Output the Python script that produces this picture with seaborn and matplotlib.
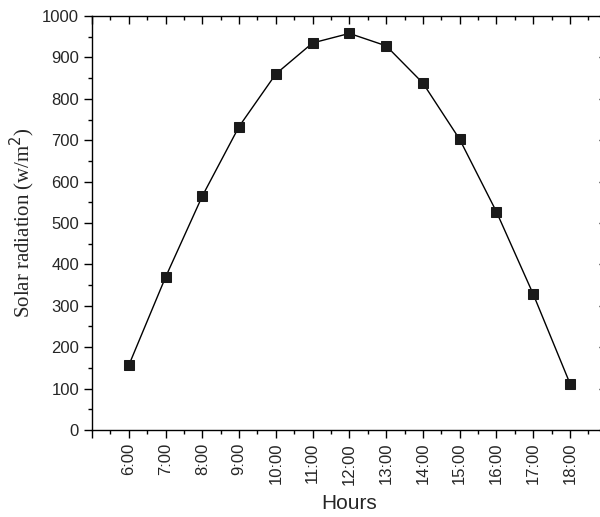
import matplotlib
matplotlib.use("Agg")
import pandas as pd
import seaborn as sns
import matplotlib.pyplot as plt
from matplotlib.ticker import MultipleLocator

# data
hours = [6, 7, 8, 9, 10, 11, 12, 13, 14, 15, 16, 17, 18]
hour_labels = ["6:00", "7:00", "8:00", "9:00", "10:00", "11:00", "12:00",
               "13:00", "14:00", "15:00", "16:00", "17:00", "18:00"]
radiation = [156, 369, 565, 733, 860, 935, 958, 928, 838, 702, 527, 328, 112]

df = pd.DataFrame({"hour": hours, "radiation": radiation})

sns.set_style("ticks")
plt.rcParams['font.family'] = ['Liberation Sans', 'DejaVu Sans']

fig = plt.figure(figsize=(6, 5.17), dpi=100)
ax = fig.add_axes([0.1533, 0.1683, 0.858, 0.8007])

sns.lineplot(data=df, x="hour", y="radiation", ax=ax, color="black",
             linewidth=1.0, marker="s", markersize=6.5,
             markerfacecolor="#1a1a1a", markeredgecolor="#1a1a1a")

ax.set_xlim(5, 19)
ax.set_ylim(0, 1000)
# a major tick at each axis end too, left unlabelled
ax.set_xticks([hours[0] - 1] + hours + [hours[-1] + 1])
ax.set_xticklabels([""] + hour_labels + [""], rotation=90, fontsize=12)
ax.xaxis.set_minor_locator(MultipleLocator(0.5))
ax.yaxis.set_major_locator(MultipleLocator(100))
ax.yaxis.set_minor_locator(MultipleLocator(50))
ax.tick_params(axis="y", labelsize=12)

ax.tick_params(which="major", length=5.8, width=1, color="black")
ax.tick_params(which="minor", length=3, width=1, color="black")
ax.tick_params(axis="x", which="both", top=True, direction="out")
ax.tick_params(axis="y", which="major", right=True, direction="out")
ax.tick_params(axis="y", which="minor", right=False)
# mirrored ticks point inward
for t in ax.xaxis.get_major_ticks() + ax.xaxis.get_minor_ticks():
    t.tick2line.set_marker(3)
for t in ax.yaxis.get_major_ticks():
    t.tick2line.set_marker(0)

for s in ax.spines.values():
    s.set_linewidth(1.0)
    s.set_color("black")

ax.set_xlabel("Hours", fontsize=15, labelpad=7)
ax.set_ylabel("Solar radiation (w/m$^2$)", fontsize=15, family="Liberation Serif",
              labelpad=4)

plt.savefig("out.png", dpi=100)
